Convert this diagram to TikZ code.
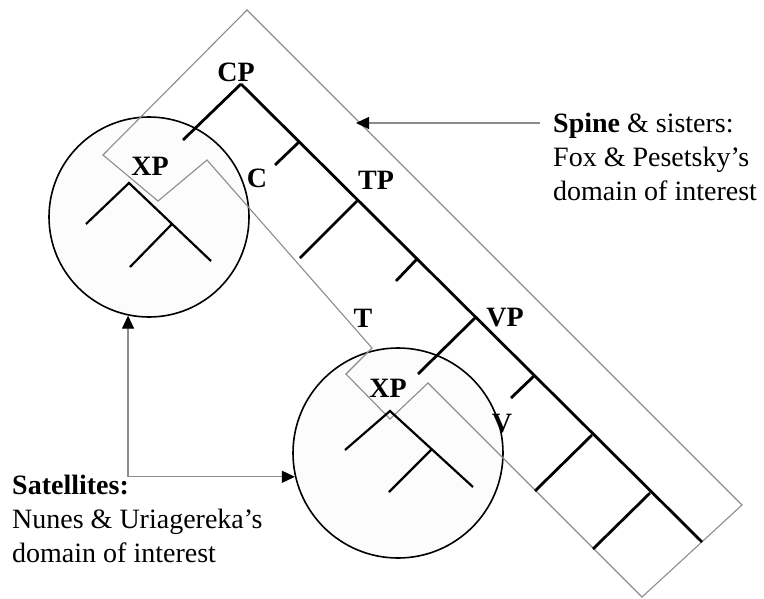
\documentclass[tikz,border=0pt]{standalone}
\usepackage{fontspec}
\setmainfont{Liberation Serif}
\usetikzlibrary{arrows.meta}

\begin{document}
\begin{tikzpicture}[x=1pt,y=-1pt,
 spineline/.style={line width=2.8pt},
 subtree/.style={line width=2.2pt},
 sat/.style={draw,circle,line width=1.6pt,fill=black!1,inner sep=0pt},
 spinebox/.style={draw=black!45,line width=1.1pt},
 pointer/.style={draw=black!45,line width=1.1pt},
 lab/.style={font=\fontsize{28}{34}\selectfont\bfseries,inner sep=0pt},
 note/.style={font=\fontsize{28}{34}\selectfont,align=left,inner sep=0pt,anchor=north west}]
\useasboundingbox (0,0) rectangle (764,598);
% satellites
\node[sat,minimum size=200pt] (sat1) at (149,217) {};
\node[sat,minimum size=210pt] (sat2) at (398,453) {};
% domain of the spine and its sisters
\draw[spinebox] (247,10) -- (742,505) -- (642,597) -- (428,383) -- (390,419) -- (346,374)
  -- (372,348) -- (207,160) -- (158,201) -- (103,155) -- cycle;
% spine
\coordinate (cp) at (241,84);
\coordinate (c) at (299,142);
\coordinate (tp) at (358,200);
\coordinate (t) at (417,259);
\coordinate (vp) at (476,317);
\coordinate (v) at (534,376);
\coordinate (s6) at (592,435);
\coordinate (s7) at (650,493);
\coordinate (spend) at (702,542);
\coordinate (cpL) at (183,140);
\coordinate (cL) at (275,165);
\coordinate (tpL) at (300,258);
\coordinate (tL) at (396,281);
\coordinate (vpL) at (418,374);
\coordinate (vL) at (511,398);
\coordinate (s6L) at (535,491);
\coordinate (s7L) at (593,549);
\draw[spineline] (cp) -- (spend);
\draw[spineline] (cp) -- (cpL);
\draw[spineline] (c) -- (cL);
\draw[spineline] (tp) -- (tpL);
\draw[spineline] (t) -- (tL);
\draw[spineline] (vp) -- (vpL);
\draw[spineline] (v) -- (vL);
\draw[spineline] (s6) -- (s6L);
\draw[spineline] (s7) -- (s7L);
% XP inside the satellites
\coordinate (xa) at (129,183);
\coordinate (xaL) at (86,224);
\coordinate (xaR) at (211,261);
\coordinate (xaM) at (172,224);
\coordinate (xaMe) at (130,267);
\draw[subtree] (xaL) -- (xa) -- (xaR);
\draw[subtree] (xaM) -- (xaMe);
\coordinate (xb) at (390,411);
\coordinate (xbL) at (345,450);
\coordinate (xbR) at (473,487);
\coordinate (xbM) at (432,449);
\coordinate (xbMe) at (389,492);
\draw[subtree] (xbL) -- (xb) -- (xbR);
\draw[subtree] (xbM) -- (xbMe);
% labels
\node[lab] (lcp) at (236,72) {CP};
\node[lab] (lxa) at (150,166) {XP};
\node[lab] (lc) at (257,178) {C};
\node[lab] (ltp) at (376,180) {TP};
\node[lab] (lt) at (363,318) {T};
\node[lab] (lvp) at (505,318) {VP};
\node[lab] (lxb) at (388,388) {XP};
\node[lab] (lv) at (502,424) {V};
% notes
\node[note] (spine) at (553,113) {\textbf{Spine} \& sisters:\\Fox \& Pesetsky's\\domain of interest};
\node[note] (satnote) at (12,475) {\textbf{Satellites:}\\Nunes \& Uriagereka's\\domain of interest};
\coordinate (spinetip) at (356,123);
\draw[pointer,{Triangle[color=black,length=13pt,width=12pt]}-,shorten >=13pt] (spinetip) -- (spine.west |- spinetip);
\draw[pointer,{Triangle[color=black,length=13pt,width=12pt]}-{Triangle[color=black,length=13pt,width=12pt]}] (sat1.258) |- (sat2.193);
\end{tikzpicture}
\end{document}
